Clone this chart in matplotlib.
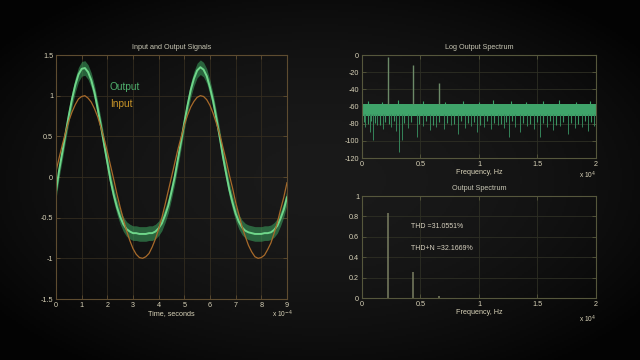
import numpy as np
import matplotlib
matplotlib.use('Agg')
import matplotlib.pyplot as plt

plt.rcParams['font.family'] = ['Liberation Sans', 'DejaVu Sans']

# ---- data ----
# time axis in units of 1e-4 s, read every 0.125
t = np.linspace(0, 9, 73)
input_sig = [0.07, 0.24, 0.40, 0.55, 0.69, 0.80, 0.89, 0.96,
             0.99, 1.00, 0.97, 0.92, 0.84, 0.74, 0.61, 0.47,
             0.31, 0.14, -0.03, -0.21, -0.37, -0.52, -0.66, -0.78,
             -0.88, -0.95, -0.99, -1.00, -0.98, -0.94, -0.86, -0.76,
             -0.64, -0.50, -0.34, -0.17, 0.00, 0.17, 0.34, 0.49,
             0.64, 0.76, 0.86, 0.93, 0.98, 1.00, 0.99, 0.95,
             0.88, 0.78, 0.66, 0.53, 0.37, 0.21, 0.03, -0.13,
             -0.31, -0.46, -0.61, -0.73, -0.84, -0.92, -0.98, -1.00,
             -0.99, -0.96, -0.89, -0.81, -0.69, -0.56, -0.40, -0.25,
             -0.07]
output_sig = [-0.18, 0.09, 0.31, 0.54, 0.76, 0.96, 1.13, 1.26,
              1.33, 1.34, 1.29, 1.19, 1.04, 0.84, 0.63, 0.40,
              0.18, -0.04, -0.22, -0.37, -0.49, -0.58, -0.64, -0.67,
              -0.69, -0.69, -0.70, -0.70, -0.70, -0.69, -0.69, -0.67,
              -0.63, -0.57, -0.47, -0.35, -0.18, 0.00, 0.22, 0.44,
              0.67, 0.88, 1.07, 1.21, 1.31, 1.35, 1.32, 1.24,
              1.10, 0.93, 0.72, 0.50, 0.26, 0.05, -0.15, -0.31,
              -0.45, -0.55, -0.62, -0.66, -0.68, -0.69, -0.70, -0.70,
              -0.70, -0.69, -0.69, -0.68, -0.65, -0.60, -0.51, -0.40,
              -0.25]
output_noise = 0.09

# frequency axis in units of 1e4 Hz
harm_f = [0.22, 0.44, 0.66]
harm_db = [-2, -12, -33]
harm_amp = [0.83, 0.255, 0.02]

floor_f = [0, 2]
floor_top = [-57, -57]
floor_bot = [-71, -71]

spike_f = [0.03, 0.065, 0.097, 0.13, 0.18, 0.25, 0.29, 0.318, 0.338, 0.39,
           0.466, 0.52, 0.58, 0.63, 0.70, 0.76, 0.82, 0.88, 0.93, 0.98, 1.04,
           1.10, 1.16, 1.21, 1.26, 1.31, 1.35, 1.41, 1.47, 1.52, 1.58, 1.63,
           1.69, 1.76, 1.82, 1.88, 1.93, 1.98]
spike_db = [-84, -90, -99, -82, -86, -84, -88, -113, -99, -85, -95, -83, -87,
            -84, -86, -82, -92, -85, -83, -90, -84, -86, -82, -85, -95, -84,
            -90, -83, -86, -95, -84, -87, -83, -92, -85, -84, -88, -83]
minor_f = [0.015, 0.05, 0.08, 0.115, 0.155, 0.2, 0.235, 0.27, 0.355, 0.42,
           0.49, 0.55, 0.605, 0.66, 0.73, 0.79, 0.85, 0.905, 0.955, 1.01,
           1.07, 1.13, 1.185, 1.235, 1.285, 1.38, 1.44, 1.495, 1.55, 1.605,
           1.66, 1.72, 1.79, 1.85, 1.905, 1.955]
minor_db = [-78, -80, -77, -79, -81, -78, -80, -77, -79, -78, -80, -77, -81,
            -78, -79, -80, -77, -79, -78, -81, -77, -79, -80, -78, -77, -79,
            -80, -78, -79, -77, -81, -78, -79, -80, -77, -78]
up_f = [0.05, 0.17, 0.31, 0.52, 0.71, 0.86, 1.0, 1.12, 1.27, 1.4, 1.55,
        1.68, 1.83, 1.95]
up_db = [-54, -55, -53, -54, -55, -54, -55, -53, -54, -55, -54, -53, -55, -54]

thd_text = 'THD =31.0551%'
thdn_text = 'THD+N =32.1669%'

# ---- figure ----
fig = plt.figure(figsize=(6.4, 3.6), dpi=100)
bg = fig.add_axes([0, 0, 1, 1], zorder=-10)
yy, xx = np.mgrid[-1:1:180j, -1:1:320j]
r2 = xx ** 2 + yy ** 2
bg.imshow(np.clip(0.10 - 0.055 * r2, 0.015, 1), cmap='gray', vmin=0, vmax=1,
          aspect='auto', extent=[0, 1, 0, 1])
bg.axis('off')

tick_col = '#d8d2b8'
fs = 5.2


def style(ax, frame, grid):
    ax.set_facecolor('none')
    for s in ax.spines.values():
        s.set_color(frame)
        s.set_linewidth(0.8)
    ax.grid(True, color=grid, lw=0.6)
    ax.set_axisbelow(True)
    ax.tick_params(direction='in', length=3, width=0.6, color=frame,
                   labelcolor=tick_col, labelsize=fs, pad=2,
                   top=True, right=True)


# left: input and output signals
ax1 = fig.add_axes([0.0875, 0.1694, 0.3609, 0.6778])
style(ax1, '#5e4c30', '#332c1f')
lo = [v - output_noise for v in output_sig]
hi = [v + output_noise for v in output_sig]
ax1.fill_between(t, lo, hi, color='#3a9a5a', alpha=0.6, lw=0)
ax1.plot(t, output_sig, color='#6fd68a', lw=1.4)
ax1.plot(t, input_sig, color='#a86a2a', lw=0.9)
ax1.set_xlim(0, 9)
ax1.set_ylim(-1.5, 1.5)
ax1.set_xticks(range(10))
ax1.set_yticks([-1.5, -1, -0.5, 0, 0.5, 1, 1.5])
ax1.set_yticklabels(['-1.5', '-1', '-0.5', '0', '0.5', '1', '1.5'])
ax1.set_title('Input and Output Signals', color='#c8c6b4', fontsize=5.2, pad=4)
ax1.set_xlabel('Time, seconds', color=tick_col, fontsize=fs, labelpad=1)
ax1.text(2.1, 1.105, 'Output', color='#4fae6c', fontsize=7.3, va='center')
ax1.text(2.1, 0.90, 'Input', color='#c89428', fontsize=7.3, va='center')
fig.text(0.425, 0.118, r'x 10$^{-4}$', color=tick_col, fontsize=4.8)

# top right: log output spectrum
ax2 = fig.add_axes([0.5656, 0.5611, 0.3656, 0.2861])
style(ax2, '#56573c', '#2e2f24')
ax2.fill_between(floor_f, floor_bot, floor_top, color='#3fa46a', lw=0)
ax2.vlines(minor_f, minor_db, floor_bot[0] + 2, color='#3a9462', lw=0.8)
ax2.vlines(spike_f, spike_db, floor_bot[0] + 2, color='#35845a', lw=0.7)
ax2.vlines(up_f, floor_top[0] - 1, up_db, color='#3fa46a', lw=0.8)
ax2.vlines(harm_f, floor_top[0], harm_db, color='#6c8a68', lw=1.0)
ax2.set_xlim(0, 2)
ax2.set_ylim(-120, 0)
ax2.set_xticks([0, 0.5, 1, 1.5, 2])
ax2.set_xticklabels(['0', '0.5', '1', '1.5', '2'])
ax2.set_yticks([-120, -100, -80, -60, -40, -20, 0])
ax2.set_yticklabels(['-120', '-100', '-80', '-60', '-40', '-20', '0'])
ax2.set_title('Log Output Spectrum', color='#c8c6b4', fontsize=5.2, pad=4)
ax2.set_xlabel('Frequency, Hz', color=tick_col, fontsize=fs, labelpad=1)
fig.text(0.905, 0.505, r'x 10$^{4}$', color=tick_col, fontsize=4.8)

# bottom right: output spectrum
ax3 = fig.add_axes([0.5656, 0.1722, 0.3656, 0.2833])
style(ax3, '#56573c', '#2e2f24')
ax3.vlines(harm_f, 0, harm_amp, color='#7a7f62', lw=1.1)
ax3.set_xlim(0, 2)
ax3.set_ylim(0, 1)
ax3.set_xticks([0, 0.5, 1, 1.5, 2])
ax3.set_xticklabels(['0', '0.5', '1', '1.5', '2'])
ax3.set_yticks([0, 0.2, 0.4, 0.6, 0.8, 1])
ax3.set_yticklabels(['0', '0.2', '0.4', '0.6', '0.8', '1'])
ax3.set_title('Output Spectrum', color='#c8c6b4', fontsize=5.2, pad=4)
ax3.set_xlabel('Frequency, Hz', color=tick_col, fontsize=fs, labelpad=1)
ax3.text(0.42, 0.70, thd_text, color='#d8d2c0', fontsize=5.0, va='center')
ax3.text(0.42, 0.49, thdn_text, color='#d8d2c0', fontsize=5.0, va='center')
fig.text(0.905, 0.103, r'x 10$^{4}$', color=tick_col, fontsize=4.8)

fig.savefig('out.png', dpi=100)
